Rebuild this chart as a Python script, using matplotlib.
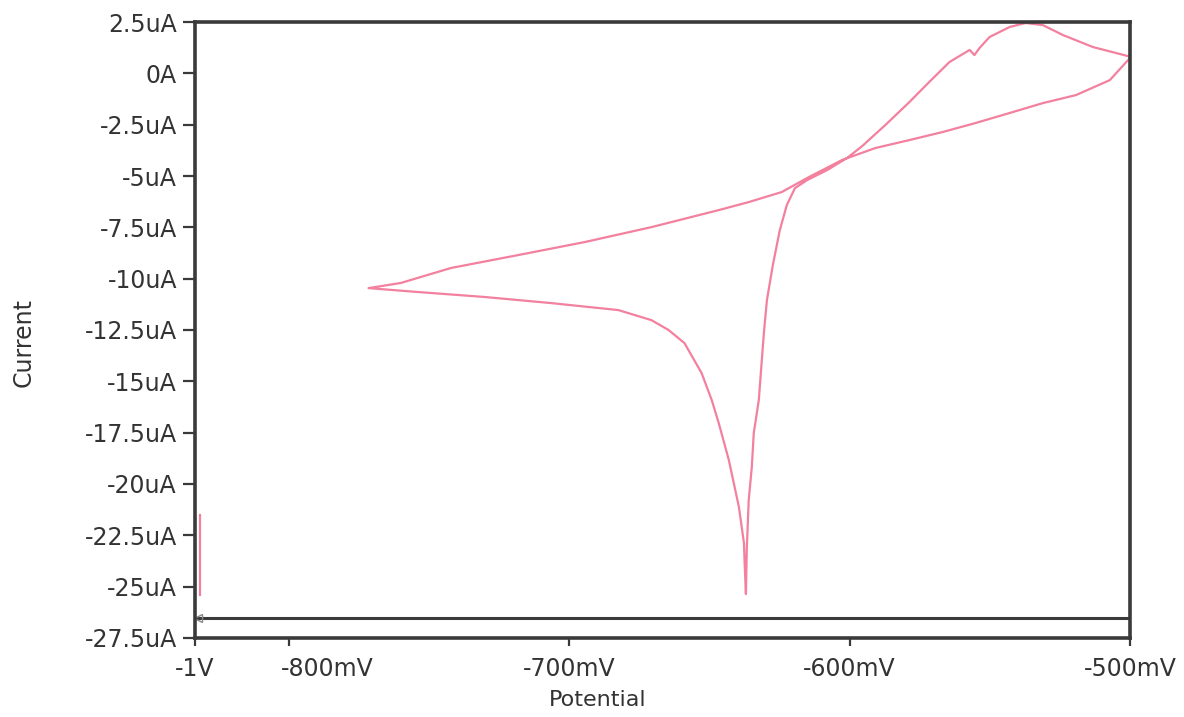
"""
    Cyclic voltammogram: current vs potential, single scan loop.
    Output: out.png
"""

import matplotlib
matplotlib.use("Agg")
import matplotlib.pyplot as plt
from matplotlib.transforms import ScaledTranslation

# --- scan data (potential in mV, current in uA) in scan order
potential_mv = [
    -499.6, -513.2, -524.0, -531.1, -537.2, -542.9, -550.1, -553.7, -555.5, -557.2,
    -564.4, -571.6, -578.7, -587.3, -595.5, -600.9, -608.0, -615.2, -619.5, -622.4,
    -624.9, -627.4, -629.5, -630.6, -632.4, -634.2, -634.9, -636.0, -636.7, -637.0,
    -637.4, -637.7, -639.5, -643.1, -646.7, -649.2, -652.8, -658.9, -664.6, -670.7,
    -682.5, -706.4, -730.4, -754.0, -771.6,
    -760.1, -742.2, -718.2, -694.6, -670.7, -646.7, -636.0, -624.2, -614.5, -602.7,
    -590.9, -578.7, -566.9, -555.1, -542.9, -531.1, -519.3, -507.2, -500.0,
]
current_ua = [
    0.80, 1.28, 1.87, 2.35, 2.45, 2.26, 1.77, 1.23, 0.89, 1.14,
    0.55, -0.42, -1.40, -2.52, -3.54, -4.12, -4.71, -5.20, -5.59, -6.41,
    -7.63, -9.34, -11.04, -12.65, -15.91, -17.52, -19.18, -20.78, -23.22, -25.36,
    -24.05, -22.88, -21.12, -18.83, -17.03, -15.91, -14.60, -13.14, -12.50, -12.02,
    -11.53, -11.19, -10.89, -10.65, -10.46,
    -10.21, -9.48, -8.85, -8.22, -7.49, -6.66, -6.27, -5.78, -5.05, -4.22,
    -3.64, -3.25, -2.86, -2.42, -1.93, -1.45, -1.06, -0.33, 0.75,
]

# short stray segment at the left edge of the plot
stub_mv = [-831.7, -831.7]
stub_ua = [-21.5, -25.4]

# cursor line near the bottom
cursor_ua = -26.53

# --- axis ticks
x_ticks = [-833.5, -800, -700, -600, -500]
x_labels = ["-1V", "-800mV", "-700mV", "-600mV", "-500mV"]
y_ticks = [2.5, 0, -2.5, -5, -7.5, -10, -12.5, -15, -17.5, -20, -22.5, -25, -27.5]
y_labels = ["2.5uA", "0A", "-2.5uA", "-5uA", "-7.5uA", "-10uA", "-12.5uA",
            "-15uA", "-17.5uA", "-20uA", "-22.5uA", "-25uA", "-27.5uA"]

trace_color = "#f2809e"
frame_color = "#3a3a3a"
text_color = "#333333"


def main():
    plt.rcParams["font.family"] = ["DejaVu Sans"]

    fig = plt.figure(figsize=(11.84, 7.17), dpi=100)
    ax = fig.add_axes([0.1647, 0.1102, 0.9544 - 0.1647, 0.9693 - 0.1102])

    ax.plot(potential_mv, current_ua, color=trace_color, lw=1.6, solid_joinstyle="round")
    ax.plot(stub_mv, stub_ua, color=trace_color, lw=1.6)

    # cursor line with its small arrow at the left end
    ax.axhline(cursor_ua, color=frame_color, lw=2.2)
    ax.plot([x_ticks[0] + 1.2], [cursor_ua], marker="<", ms=6, mfc="none",
            mec="#888888", mew=1.0, clip_on=False)

    ax.set_xlim(x_ticks[0], -500)
    ax.set_ylim(-27.5, 2.5)

    ax.set_xticks(x_ticks)
    ax.set_xticklabels(x_labels)
    ax.set_yticks(y_ticks)
    ax.set_yticklabels(y_labels)

    ax.tick_params(axis="y", direction="out", length=9, width=1.6, pad=4,
                   labelsize=17, colors=frame_color, labelcolor=text_color)
    ax.tick_params(axis="x", direction="out", length=6, width=1.6, pad=8,
                   labelsize=17, colors=frame_color, labelcolor=text_color)

    # the -800mV label sits to the right of its tick so it clears "-1V"
    lbl = ax.get_xticklabels()[1]
    lbl.set_transform(lbl.get_transform() + ScaledTranslation(0.38, 0, fig.dpi_scale_trans))

    for side in ["top", "bottom", "left", "right"]:
        ax.spines[side].set_color(frame_color)
        ax.spines[side].set_linewidth(2.6)

    ax.set_xlabel("Potential", fontsize=16, color=text_color)
    ax.set_ylabel("Current", fontsize=17, color=text_color)
    ax.xaxis.set_label_coords(0.431, -0.085)
    ax.yaxis.set_label_coords(-0.17, 0.48)

    fig.savefig("out.png", dpi=100)
    plt.close(fig)


if __name__ == "__main__":
    main()
